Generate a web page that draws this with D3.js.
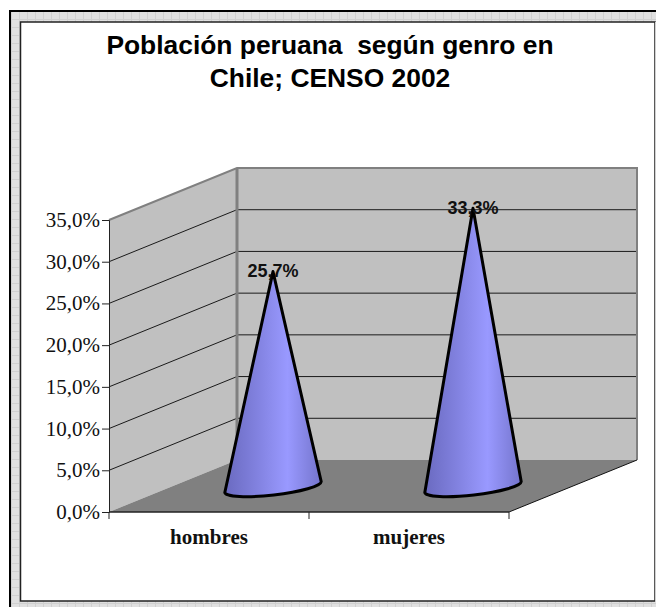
<!DOCTYPE html>
<html>
<head>
<meta charset="utf-8">
<script src="https://cdn.jsdelivr.net/npm/d3@7"></script>
<style>
    html, body { margin: 0; padding: 0; background: #fff; }
    svg { display: block; }
    .tick-label { font-family: "Liberation Serif", serif; font-size: 21px; fill: #111; }
    .cat-label { font-family: "Liberation Serif", serif; font-size: 21px; font-weight: bold; fill: #111; }
    .val-label { font-family: "Liberation Sans", sans-serif; font-size: 18px; font-weight: bold; fill: #111; }
    .title { font-family: "Liberation Sans", sans-serif; font-size: 26.4px; font-weight: bold; fill: #000; white-space: pre; }
</style>
</head>
<body>
<div id="chart"></div>
<script>
var categories = ["hombres", "mujeres"]
var values = [25.7, 33.3]
var valueLabels = ["25,7%", "33,3%"]
var yTicks = [0, 5, 10, 15, 20, 25, 30, 35]
var titleLines = ["Población peruana  según genro en", "Chile; CENSO 2002"]

var WIDTH = 656, HEIGHT = 607
var X0 = 109, X1 = 509, Y0 = 512, Y1 = 220
var DEPTH_X = 128, DEPTH_Y = 52

var svg = d3.select("#chart").append("svg")
    .attr("width", WIDTH)
    .attr("height", HEIGHT)

var x = d3.scaleBand().domain(categories).range([X0, X1])
var y = d3.scaleLinear().domain([0, 35]).range([Y0, Y1])

var defs = svg.append("defs")

// textured frame
var pattern = defs.append("pattern")
    .attr("id", "frameTex")
    .attr("width", 8).attr("height", 8)
    .attr("patternUnits", "userSpaceOnUse")
pattern.append("rect").attr("width", 8).attr("height", 8).attr("fill", "#e0e0e0")
pattern.append("rect").attr("x", 3).attr("y", 0).attr("width", 1).attr("height", 8).attr("fill", "#d0d0d0")
pattern.append("rect").attr("x", 0).attr("y", 3).attr("width", 8).attr("height", 1).attr("fill", "#d0d0d0")

var coneGrad = defs.append("linearGradient").attr("id", "coneGrad")
coneGrad.append("stop").attr("offset", "0%").attr("stop-color", "#6a6ac0")
coneGrad.append("stop").attr("offset", "30%").attr("stop-color", "#7f7fdc")
coneGrad.append("stop").attr("offset", "65%").attr("stop-color", "#9999ff")
coneGrad.append("stop").attr("offset", "100%").attr("stop-color", "#7474cc")

// frame: black outer edge, texture band, then the white page
svg.append("rect").attr("x", 10).attr("y", 11).attr("width", WIDTH - 10).attr("height", HEIGHT - 11)
    .attr("fill", "url(#frameTex)")
svg.append("path").attr("d", "M10," + HEIGHT + "V11H" + WIDTH)
    .attr("fill", "none").attr("stroke", "#000").attr("stroke-width", 2)
svg.append("rect").attr("x", 20.5).attr("y", 22).attr("width", 634.5).attr("height", 579)
    .attr("fill", "#fff").attr("stroke", "#222").attr("stroke-width", 1.5)
svg.append("line").attr("x1", 655.5).attr("x2", 655.5).attr("y1", 22).attr("y2", 602)
    .attr("stroke", "#d0d0d0")

// title
var title = svg.append("text").attr("class", "title").attr("text-anchor", "middle")
title.selectAll("tspan")
    .data(titleLines)
    .enter().append("tspan")
    .attr("x", 330)
    .attr("y", function (d, i) { return 54 + i * 33 })
    .text(function (d) { return d })

function poly(points, fill) {
    return svg.append("polygon")
        .attr("points", points.map(function (p) { return p.join(",") }).join(" "))
        .attr("fill", fill)
}

// walls and floor
poly([[X0, Y0], [X0 + DEPTH_X, Y0 - DEPTH_Y], [X0 + DEPTH_X, Y1 - DEPTH_Y], [X0, Y1]], "#c0c0c0")
poly([[X0 + DEPTH_X, Y0 - DEPTH_Y], [X1 + DEPTH_X, Y0 - DEPTH_Y], [X1 + DEPTH_X, Y1 - DEPTH_Y], [X0 + DEPTH_X, Y1 - DEPTH_Y]], "#c0c0c0")
poly([[X0, Y0], [X1, Y0], [X1 + DEPTH_X, Y0 - DEPTH_Y], [X0 + DEPTH_X, Y0 - DEPTH_Y]], "#808080")

// gridlines over side and back wall
var grid = svg.append("g")
yTicks.slice(1, -1).forEach(function (t) {
    grid.append("path")
        .attr("d", "M" + X0 + "," + y(t) + "L" + (X0 + DEPTH_X) + "," + (y(t) - DEPTH_Y) + "L" + (X1 + DEPTH_X) + "," + (y(t) - DEPTH_Y))
        .attr("fill", "none").attr("stroke", "#1a1a1a").attr("stroke-width", 1)
})

// wall edges
svg.append("path")
    .attr("d", "M" + X0 + "," + Y1 + "L" + (X0 + DEPTH_X) + "," + (Y1 - DEPTH_Y) + "L" + (X1 + DEPTH_X) + "," + (Y1 - DEPTH_Y) + "L" + (X1 + DEPTH_X) + "," + (Y0 - DEPTH_Y))
    .attr("fill", "none").attr("stroke", "#808080").attr("stroke-width", 2)
svg.append("path")
    .attr("d", "M" + (X0 + DEPTH_X) + "," + (Y1 - DEPTH_Y) + "L" + (X0 + DEPTH_X) + "," + (Y0 - DEPTH_Y))
    .attr("fill", "none").attr("stroke", "#808080").attr("stroke-width", 3)
svg.append("path")
    .attr("d", "M" + X1 + "," + Y0 + "L" + (X1 + DEPTH_X) + "," + (Y0 - DEPTH_Y))
    .attr("fill", "none").attr("stroke", "#111").attr("stroke-width", 1)

// axes
var yAxis = svg.append("g").attr("transform", "translate(" + X0 + ",0)")
    .call(d3.axisLeft(y).tickValues(yTicks).tickSize(7).tickFormat(function () { return "" }))
yAxis.selectAll("line, path").attr("stroke", "#222").attr("stroke-width", 1)
svg.selectAll(".tick-label")
    .data(yTicks)
    .enter().append("text")
    .attr("class", "tick-label")
    .attr("text-anchor", "end")
    .attr("x", X0 - 9)
    .attr("y", function (d) { return y(d) + 7 })
    .text(function (d) { return d3.format(".1f")(d).replace(".", ",") + "%" })

svg.append("path").attr("d", "M" + X0 + "," + Y0 + "H" + X1).attr("stroke", "#222").attr("stroke-width", 1.5)
svg.selectAll(".x-tick")
    .data([X0, X0 + x.bandwidth(), X1])
    .enter().append("line")
    .attr("class", "x-tick")
    .attr("x1", function (d) { return d }).attr("x2", function (d) { return d })
    .attr("y1", Y0).attr("y2", Y0 + 7)
    .attr("stroke", "#222")
svg.selectAll(".cat-label")
    .data(categories)
    .enter().append("text")
    .attr("class", "cat-label")
    .attr("text-anchor", "middle")
    .attr("x", function (d) { return x(d) + x.bandwidth() / 2 })
    .attr("y", 544)
    .text(function (d) { return d })

// cones stand in the middle of the depth
var BASE_RX = 48.5, BASE_RY = 8, BASE_ROT = -6.5
categories.forEach(function (c, i) {
    var cx = x(c) + x.bandwidth() / 2 + DEPTH_X / 2
    var cy = Y0 - DEPTH_Y / 2 + 1
    var tipY = y(values[i]) - DEPTH_Y / 2
    var a = BASE_ROT * Math.PI / 180
    var dx = BASE_RX * Math.cos(a), dy = BASE_RX * Math.sin(a)
    svg.append("path")
        .attr("d", "M" + cx + "," + tipY + "L" + (cx + dx) + "," + (cy + dy)
            + "A" + BASE_RX + "," + BASE_RY + " " + BASE_ROT + " 0 1 " + (cx - dx) + "," + (cy - dy) + "Z")
        .attr("fill", "url(#coneGrad)")
        .attr("stroke", "#000")
        .attr("stroke-width", 3)
        .attr("stroke-linejoin", "round")
    svg.append("text")
        .attr("class", "val-label")
        .attr("text-anchor", "middle")
        .attr("x", cx)
        .attr("y", tipY + 5.5)
        .text(valueLabels[i])
})
</script>
</body>
</html>
